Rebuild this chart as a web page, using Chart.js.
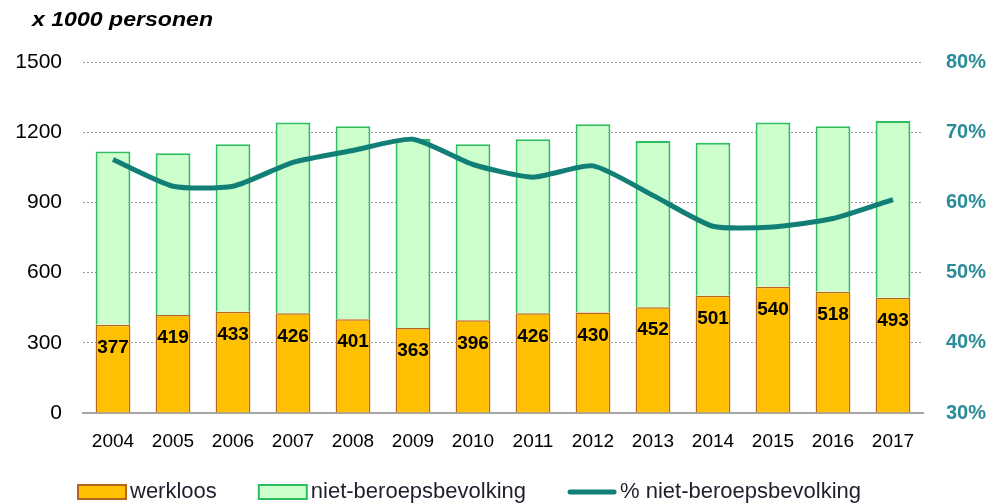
<!DOCTYPE html>
<html>
<head>
<meta charset="utf-8">
<script src="https://cdn.jsdelivr.net/npm/chart.js@4.4.1/dist/chart.umd.min.js"></script>
<style>
html,body{margin:0;padding:0;background:#fff;}
#wrap{position:relative;width:992px;height:503px;}
</style>
</head>
<body>
<div id="wrap"><canvas id="c" width="992" height="503"></canvas></div>
<script>
const years = ['2004','2005','2006','2007','2008','2009','2010','2011','2012','2013','2014','2015','2016','2017'];
const werkloos = [377,419,433,426,401,363,396,426,430,452,501,540,518,493];
const nietBeroeps = [740,691,715,815,824,808,752,744,804,710,654,701,707,755];
const pctNietBeroeps = [66.1,62.3,62.3,65.7,67.4,69.0,65.4,63.6,65.2,61.0,56.6,56.5,57.7,60.4];
const leftTicks = [0,300,600,900,1200,1500];
const rightTicks = [30,40,50,60,70,80];

const FONT = '"Liberation Sans", Arial, sans-serif';

const titlePlugin = {
  id: 'titleText',
  afterDraw(chart) {
    const ctx = chart.ctx;
    const txt = 'x 1000 personen';
    ctx.save();
    ctx.font = 'italic bold 20px ' + FONT;
    ctx.fillStyle = '#000';
    ctx.textBaseline = 'middle';
    ctx.textAlign = 'left';
    const w = ctx.measureText(txt).width;
    ctx.translate(32, 20);
    ctx.scale(181 / w, 1);
    ctx.fillText(txt, 0, 0);
    ctx.restore();
  }
};

const labelPlugin = {
  id: 'barLabels',
  afterDatasetsDraw(chart) {
    const ctx = chart.ctx;
    const meta = chart.getDatasetMeta(1);
    ctx.save();
    ctx.font = 'bold 19px ' + FONT;
    ctx.fillStyle = '#000';
    ctx.textAlign = 'center';
    ctx.textBaseline = 'middle';
    meta.data.forEach((bar, i) => {
      ctx.fillText(String(werkloos[i]), bar.x, bar.y + 23);
    });
    ctx.restore();
  }
};

const legendPlugin = {
  id: 'customLegend',
  afterDraw(chart) {
    const ctx = chart.ctx;
    const ds = chart.data.datasets;
    const items = [ds[1], ds[2], ds[0]];
    const y = 492;
    let x = 78;
    ctx.save();
    ctx.font = '22px ' + FONT;
    ctx.textBaseline = 'middle';
    ctx.textAlign = 'left';
    items.forEach(d => {
      const bw = 48;
      if (d.type === 'line') {
        ctx.strokeStyle = d.borderColor;
        ctx.lineWidth = 5;
        ctx.lineCap = 'round';
        ctx.beginPath();
        ctx.moveTo(x + 2, y);
        ctx.lineTo(x + bw - 2, y);
        ctx.stroke();
      } else {
        ctx.fillStyle = d.backgroundColor;
        ctx.fillRect(x, y - 7, bw, 14);
        ctx.strokeStyle = d.borderColor;
        ctx.lineWidth = 2;
        ctx.strokeRect(x, y - 7, bw, 14);
      }
      ctx.fillStyle = '#1f1f2f';
      ctx.fillText(d.label, x + bw + 4, y);
      x += bw + 4 + ctx.measureText(d.label).width + 42;
    });
    ctx.restore();
  }
};

new Chart(document.getElementById('c'), {
  type: 'bar',
  data: {
    labels: years,
    datasets: [
      {
        type: 'line',
        label: '% niet-beroepsbevolking',
        data: pctNietBeroeps,
        yAxisID: 'y2',
        borderColor: '#127f77',
        backgroundColor: '#127f77',
        borderWidth: 5,
        pointRadius: 0,
        tension: 0.2,
        order: 0
      },
      {
        label: 'werkloos',
        data: werkloos,
        yAxisID: 'y',
        backgroundColor: '#ffc000',
        borderColor: '#b5651d',
        borderWidth: 1.5,
        stack: 's',
        barPercentage: 0.58,
        categoryPercentage: 1,
        order: 1
      },
      {
        label: 'niet-beroepsbevolking',
        data: nietBeroeps,
        yAxisID: 'y',
        backgroundColor: '#ccffcc',
        borderColor: '#2dbf5f',
        borderWidth: 2,
        stack: 's',
        barPercentage: 0.58,
        categoryPercentage: 1,
        order: 1
      }
    ]
  },
  options: {
    responsive: false,
    animation: false,
    layout: { padding: { top: 62, left: 0, right: 0, bottom: 44 } },
    plugins: {
      tooltip: { enabled: false },
      legend: { display: false }
    },
    scales: {
      x: {
        stacked: true,
        grid: { display: false, drawTicks: false },
        border: { display: true, color: '#a6a6a6', width: 2 },
        ticks: { font: { family: FONT, size: 19 }, color: '#000', padding: 17, maxRotation: 0 },
        afterFit(s) { s.height = 46; }
      },
      y: {
        stacked: true,
        position: 'left',
        min: 0, max: 1500,
        afterBuildTicks(s) { s.ticks = leftTicks.map(v => ({ value: v })); },
        grid: { color: '#9a9a9a', lineWidth: 1, drawTicks: false },
        border: { display: false, dash: [2, 2] },
        ticks: { font: { family: FONT, size: 21 }, color: '#000', padding: 21, callback: v => String(v) },
        afterFit(s) { s.width = 83; }
      },
      y2: {
        position: 'right',
        min: 30, max: 80,
        afterBuildTicks(s) { s.ticks = rightTicks.map(v => ({ value: v })); },
        grid: { display: false, drawTicks: false },
        border: { display: false },
        ticks: { font: { family: FONT, size: 20, weight: 'bold' }, color: '#2b8c99', padding: 23, callback: v => v + '%' },
        afterFit(s) { s.width = 69; }
      }
    }
  },
  plugins: [titlePlugin, labelPlugin, legendPlugin]
});
</script>
</body>
</html>
